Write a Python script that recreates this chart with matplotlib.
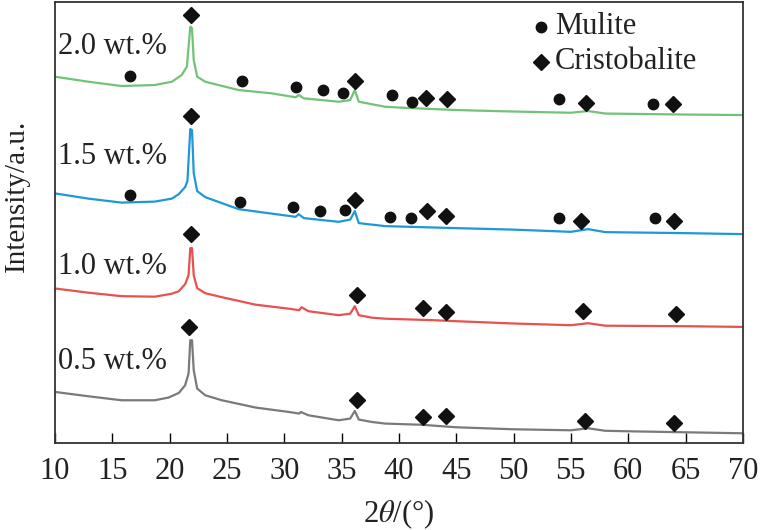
import numpy as np
from matplotlib import pyplot as plt

plt.rcParams['font.family'] = ['Liberation Serif', 'DejaVu Serif']
plt.rcParams['mathtext.fontset'] = 'stix'

# curves (2theta, stacked intensity)
x_05 = [10, 12.9, 15.8, 18.7, 19.9, 20.8, 21.35, 21.65, 21.8, 21.95, 22.1, 22.4, 23.1, 24.55, 27.5, 30.4,
        31.3, 31.45, 32.1, 34.75, 35.75, 36.15, 36.5, 37.65, 38.8, 42, 45, 50, 55, 56.5, 58, 60, 65, 70]
y_05 = [51.3, 47, 43, 43, 45.7, 50.3, 58, 69.7, 103, 103, 73, 54.7, 48, 43, 35.7, 31.3,
        29.7, 31.3, 28, 23, 24.7, 32.3, 23.7, 21.3, 19.7, 18.5, 16, 14, 13, 15, 12.5, 12, 11, 10]

x_10 = [10, 12.9, 15.8, 18.7, 20.2, 20.8, 21.35, 21.65, 21.8, 21.95, 22.1, 22.4, 23.1, 24.55, 27.5, 30.4,
        31.3, 31.5, 32.1, 34.75, 35.75, 36.15, 36.5, 37.65, 38.8, 43, 45, 50, 55, 56.5, 58, 65, 70]
y_10 = [154.7, 150.5, 147, 146.5, 149.5, 152, 159, 168, 195, 195, 168, 155, 150, 146, 138.5, 134.5,
        133, 136, 132, 128, 129.5, 137, 128, 125.5, 124.5, 123, 122, 119.7, 118, 120, 117.5, 117, 116.3]

x_15 = [10, 12.9, 15.8, 18.7, 20.2, 20.8, 21.35, 21.55, 21.8, 21.95, 22.1, 22.4, 23.1, 26.0, 28.9, 31.0,
        31.25, 31.7, 34.75, 35.75, 36.15, 36.5, 38.8, 45, 50, 55, 56.5, 58, 65, 70]
y_15 = [249.7, 244.5, 240.5, 241.5, 244.5, 249, 256, 262, 314, 313, 270, 252, 246, 234, 229.5, 226.3,
        229, 225, 221.3, 223.5, 232, 220, 217, 215, 213.5, 211.3, 214, 211, 210, 209]

x_20 = [10, 12.9, 15.8, 18.7, 20.2, 21.05, 21.5, 21.8, 21.95, 22.1, 22.4, 23.1, 26.0, 28.9, 31.0,
        31.25, 31.7, 34.75, 35.75, 36.15, 36.5, 38.8, 40, 45, 50, 55, 56.5, 58, 65, 70]
y_20 = [366.3, 361.3, 357, 358, 361.3, 368, 376.3, 416.3, 414.7, 383, 366.3, 361.3, 353, 349.7, 345.7,
        348, 344.7, 341.3, 343, 353, 341.3, 336.3, 335.5, 333, 331.5, 330.3, 332, 329.5, 328.5, 328]

# phase markers
mul_x = [16.55, 26.3, 31.0, 33.4, 35.1, 39.4, 41.15, 54.0, 62.2,
         16.5, 26.1, 30.8, 33.1, 35.3, 39.25, 41.05, 53.95, 62.3]
mul_y = [367, 362, 355.7, 353, 350, 348, 341, 343.7, 338.7,
         248, 240.7, 235.7, 232.3, 233, 225.7, 224.7, 224.7, 224.7]
cri_x = [21.9, 36.15, 42.4, 44.2, 56.35, 63.95,
         21.9, 36.2, 42.45, 44.1, 55.9, 64.0,
         21.85, 36.3, 42.1, 44.1, 56.05, 64.15,
         21.7, 36.3, 42.1, 44.1, 56.2, 64.0]
cri_y = [428, 362, 345, 344, 339.7, 338.7,
         327, 243, 232, 227, 222.3, 222.3,
         209, 148, 135.3, 131.3, 132.3, 129,
         116.3, 43, 26.3, 27, 22, 20.7]

labels = ['0.5 wt.%', '1.0 wt.%', '1.5 wt.%', '2.0 wt.%']
label_y = [81.3, 176.3, 286.3, 396]

fig = plt.figure(figsize=(7.6, 5.3), dpi=100)
ax = fig.add_axes([0.0724, 0.1636, 0.905, 0.8327])

ax.plot(x_05, y_05, color='#7a7a7a', lw=1.6)
ax.plot(x_10, y_10, color='#e8514f', lw=1.6)
ax.plot(x_15, y_15, color='#1f98d8', lw=1.6)
ax.plot(x_20, y_20, color='#72c27a', lw=1.6)

ax.plot(mul_x, mul_y, 'o', color='#111111', ms=7.5, ls='none')
ax.plot(cri_x, cri_y, 'D', color='#111111', ms=8, ls='none')

for lab, ly in zip(labels, label_y):
    ax.text(10.25, ly, lab, fontsize=22, color='#222222', ha='left', va='center')

# legend drawn by hand like the original
ax.plot([52.36], [416.3], 'o', color='#111111', ms=7.5)
ax.plot([52.36], [381.3], 'D', color='#111111', ms=8)
ax.text(53.6, 416.3, 'Mulite', fontsize=22, color='#222222', va='center')
ax.text(53.6, 381.3, 'Cristobalite', fontsize=22, color='#222222', va='center')

ax.set_xlim(10, 70)
ax.set_ylim(0, 441)
ax.set_xticks(np.arange(10, 71, 5))
ax.set_yticks([])
ax.tick_params(axis='x', direction='in', length=7, width=1, labelsize=22,
               pad=10, labelcolor='#222222')
for s in ax.spines.values():
    s.set_linewidth(1.3)
    s.set_color('#333333')

ax.set_xlabel(r'2$\mathit{\theta}$/(°)', fontsize=22, color='#222222')
ax.set_ylabel('Intensity/a.u.', fontsize=21, color='#222222')
ax.yaxis.set_label_coords(-0.036, 0.56)
ax.xaxis.set_label_coords(0.5, -0.122)

fig.savefig('out.png', dpi=100)
